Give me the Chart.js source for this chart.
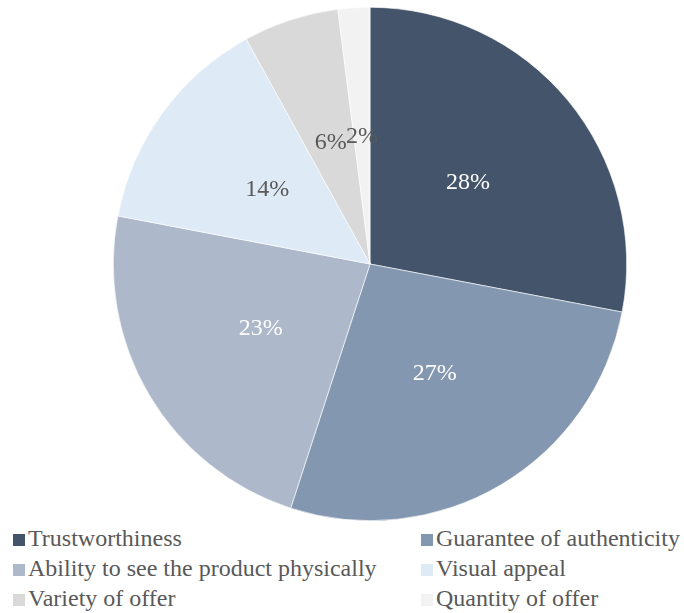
<!DOCTYPE html>
<html>
<head>
	<meta charset="utf-8">
	<title>Purchase factors</title>
	<script type="text/javascript" src="https://cdn.jsdelivr.net/npm/chart.js"></script>
</head>
<body>

<div class="chart-container">
	<canvas id="pieChart" width="684" height="523"></canvas>
</div>
<div class="legend" id="legend"></div>

<script>
const categories = [
	'Trustworthiness',
	'Guarantee of authenticity',
	'Ability to see the product physically',
	'Visual appeal',
	'Variety of offer',
	'Quantity of offer'
];
const shares = [28, 27, 23, 14, 6, 2];
const sliceColors = ['#44546a', '#8497b0', '#adb9ca', '#deebf7', '#d9d9d9', '#f2f2f2'];
const labelColors = ['#ffffff', '#ffffff', '#ffffff', '#595959', '#595959', '#595959'];

// percentage labels at about half the radius
const pctLabels = {
	id: 'pctLabels',
	afterDatasetsDraw(chart) {
		const ctx = chart.ctx;
		const meta = chart.getDatasetMeta(0);
		ctx.save();
		ctx.font = '24px "Liberation Serif", "Times New Roman", serif';
		ctx.textAlign = 'center';
		ctx.textBaseline = 'middle';
		meta.data.forEach((arc, i) => {
			const p = arc.getProps(['x', 'y', 'startAngle', 'endAngle', 'outerRadius'], true);
			const mid = (p.startAngle + p.endAngle) / 2;
			const r = p.outerRadius * 0.495;
			ctx.fillStyle = labelColors[i];
			ctx.fillText(shares[i] + '%', p.x + Math.cos(mid) * r, p.y + Math.sin(mid) * r);
		});
		ctx.restore();
	}
};

const ctx = document.getElementById('pieChart').getContext('2d');
const chart = new Chart(ctx, {
	type: 'pie',
	data: {
		labels: categories,
		datasets: [{
			data: shares,
			backgroundColor: sliceColors,
			borderColor: '#ffffff',
			borderWidth: 0.6
		}]
	},
	options: {
		responsive: false,
		animation: false,
		layout: { padding: { left: 113, right: 57, top: 7, bottom: 2 } },
		plugins: {
			legend: { display: false },
			tooltip: { enabled: false }
		}
	},
	plugins: [pctLabels]
});

document.getElementById('legend').innerHTML = categories.map((c, i) =>
	`<div class="item"><span class="box" style="background:${sliceColors[i]}"></span>${c}</div>`
).join('');
</script>
<style type="text/css">
body {
	margin: 0;
	background: #ffffff;
	width: 684px;
	height: 613px;
	overflow: hidden;
}
.chart-container canvas {
	display: block;
}
.legend {
	display: grid;
	grid-template-columns: 408px 263px;
	padding-left: 13px;
	font-family: "Liberation Serif", "Times New Roman", serif;
	font-size: 24px;
	color: #595959;
}
.legend .item {
	height: 30px;
	line-height: 30px;
	white-space: nowrap;
}
.legend .box {
	display: inline-block;
	width: 12px;
	height: 12px;
	margin-right: 3px;
	vertical-align: 0px;
}
</style>
</body>
</html>
